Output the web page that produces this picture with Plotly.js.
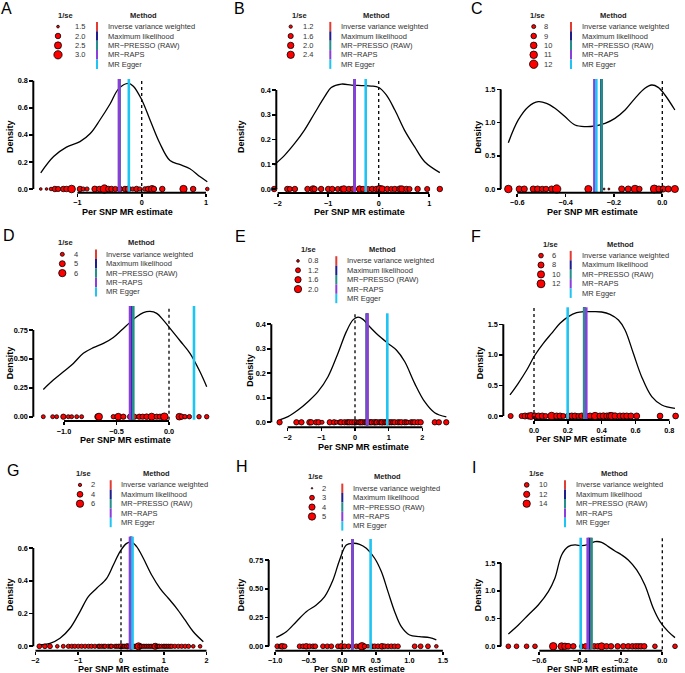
<!DOCTYPE html>
<html><head><meta charset="utf-8">
<script src="https://cdn.plot.ly/plotly-3.0.1.min.js"></script>
<style>html,body{margin:0;padding:0;background:#fff}#chart{width:685px;height:673px}</style>
</head><body><div id="chart"></div>
<script>
const methodNames = ["Inverse variance weighted","Maximum likelihood","MR\u2212PRESSO (RAW)","MR\u2212RAPS","MR Egger"];

// ---------- Panel A ----------
const A_estimate = [-1.57,-1.48,-1.41,-1.35,-1.30,-1.22,-1.17,-1.09,-0.96,-0.91,-0.85,-0.73,-0.66,-0.58,-0.52,-0.47,-0.41,-0.34,-0.26,-0.21,-0.14,-0.08,-0.03,0.05,0.10,0.16,0.19,0.32,0.65,0.80,1.02];
const A_inv_se = [1.5,1.5,1.6,2.0,1.9,2.0,2.0,2.7,2.0,1.7,1.7,2.1,2.0,3.0,2.0,2.0,1.9,2.0,2.0,2.1,1.7,2.0,1.7,1.8,2.0,2.5,2.0,2.0,2.6,2.0,1.6];
const A_density_x = [-1.57,-1.37,-1.17,-0.96,-0.80,-0.65,-0.49,-0.36,-0.21,-0.13,0.00,0.13,0.28,0.44,0.60,0.75,0.91,1.02];
const A_density_y = [0.12,0.24,0.31,0.35,0.41,0.51,0.63,0.74,0.78,0.76,0.66,0.51,0.34,0.21,0.18,0.15,0.09,0.054];
const A_method_estimate = [-0.35,-0.35,-0.35,-0.35,-0.20];
const A_se_breaks = [1.5,2.0,2.5,3.0];
const A_x_ticks = [-1,0,1];
const A_y_ticks = [0,0.2,0.4,0.6,0.8];

// ---------- Panel B ----------
const B_estimate = [-2.07,-1.81,-1.76,-1.66,-1.41,-1.30,-1.27,-1.14,-1.00,-0.92,-0.81,-0.73,-0.69,-0.59,-0.51,-0.38,-0.31,-0.21,-0.13,-0.05,0.02,0.07,0.17,0.25,0.32,0.42,0.46,0.55,0.61,0.77,0.96,1.21];
const B_inv_se = [1.7,1.7,1.6,1.7,1.7,2.1,1.7,1.7,1.7,1.7,1.6,1.7,2.1,1.7,1.7,2.0,1.7,1.6,1.7,1.7,2.4,2.0,1.7,1.6,1.7,2.0,2.0,1.7,1.6,1.7,1.6,1.7];
const B_density_x = [-2.07,-1.86,-1.66,-1.47,-1.27,-1.07,-0.94,-0.74,-0.54,-0.34,-0.15,0.00,0.15,0.32,0.51,0.71,0.91,1.21];
const B_density_y = [0.097,0.137,0.185,0.238,0.306,0.373,0.41,0.424,0.42,0.418,0.416,0.41,0.38,0.319,0.238,0.171,0.11,0.066];
const B_method_estimate = [-0.475,-0.475,-0.475,-0.475,-0.257];
const B_se_breaks = [1.2,1.6,2.0,2.4];
const B_x_ticks = [-2,-1,0,1];
const B_y_ticks = [0,0.1,0.2,0.3,0.4];

// ---------- Panel C ----------
const C_estimate = [-0.637,-0.592,-0.571,-0.534,-0.516,-0.497,-0.481,-0.458,-0.437,-0.306,-0.241,-0.221,-0.168,-0.141,-0.113,-0.095,-0.033,-0.014,0.004,0.025,0.052];
const C_inv_se = [11,9.5,9.5,9.5,9.5,9,9,9.5,12,10.5,7.4,7.4,9.5,9.5,11,9,11.5,9.5,9.5,9.5,10.5];
const C_density_x = [-0.637,-0.596,-0.554,-0.513,-0.479,-0.444,-0.403,-0.361,-0.320,-0.279,-0.237,-0.196,-0.154,-0.113,-0.072,-0.044,-0.017,0.011,0.052];
const C_density_y = [0.698,1.04,1.24,1.315,1.29,1.215,1.09,0.964,0.939,0.949,0.989,1.064,1.19,1.365,1.516,1.566,1.531,1.416,1.19];
const C_method_estimate = [-0.251,-0.252,-0.251,-0.281,-0.273];
const C_se_breaks = [8,9,10,11,12];
const C_x_ticks = [-0.6,-0.4,-0.2,0.0];
const C_y_ticks = [0,0.5,1.0,1.5];

// ---------- Panel D ----------
const D_estimate = [-1.197,-1.108,-1.070,-1.006,-0.959,-0.927,-0.879,-0.832,-0.679,-0.667,-0.530,-0.483,-0.435,-0.371,-0.330,-0.283,-0.251,-0.213,-0.165,-0.117,-0.086,-0.054,-0.044,0.098,0.121,0.152,0.194,0.286,0.359];
const D_inv_se = [4,4,4,4.6,4,4,4,4,5,5.8,4.2,5.6,4.6,4.6,4.6,4.6,4.6,4.8,5.8,4.6,4.6,4.8,6.2,5.5,4.6,4.2,4.2,4.2,4.2];
const D_density_x = [-1.197,-1.102,-1.006,-0.911,-0.816,-0.721,-0.625,-0.530,-0.451,-0.371,-0.308,-0.244,-0.181,-0.117,-0.054,0.01,0.105,0.2,0.295,0.359];
const D_density_y = [0.236,0.317,0.389,0.461,0.548,0.597,0.634,0.686,0.75,0.816,0.865,0.9,0.911,0.894,0.836,0.764,0.657,0.548,0.389,0.26];
const D_method_estimate = [-0.35,-0.35,-0.34,-0.371,0.238];
const D_se_breaks = [4,5,6];
const D_x_ticks = [-1.0,-0.5,0.0];
const D_y_ticks = [0,0.25,0.5,0.75];

// ---------- Panel E ----------
const E_estimate = [-2.24,-1.74,-1.59,-1.35,-1.30,-1.15,-1.08,-0.98,-0.75,-0.62,-0.55,-0.45,-0.41,-0.31,-0.23,-0.20,-0.16,-0.09,-0.01,0.05,0.09,0.13,0.17,0.22,0.29,0.33,0.37,0.44,0.47,0.50,0.58,0.62,0.65,0.73,0.77,0.81,0.88,0.92,0.96,1.02,1.08,1.13,1.18,1.28,1.33,1.38,1.48,1.53,1.57,1.67,1.72,1.77,1.87,1.95,2.37,2.49,2.71];
const E_inv_se = [1.3,1.3,1.3,1.4,1.3,1.3,1.3,1.0,1.3,1.3,1.0,1.2,1.3,1.3,1.3,1.2,1.3,1.3,1.4,1.2,1.0,1.3,1.3,1.3,1.3,1.2,1.4,1.3,1.2,1.3,1.4,1.2,1.3,1.3,1.2,1.4,1.3,1.2,1.3,1.3,1.3,1.2,1.3,1.3,1.2,1.3,1.3,1.2,1.0,1.3,1.2,1.3,1.3,1.3,1.3,1.3,1.3];
const E_density_x = [-2.238,-1.99,-1.693,-1.396,-1.099,-0.802,-0.505,-0.257,-0.059,0.089,0.238,0.436,0.683,0.98,1.228,1.475,1.772,2.069,2.366,2.713];
const E_density_y = [0.01,0.023,0.05,0.084,0.125,0.186,0.282,0.37,0.418,0.429,0.42,0.39,0.356,0.322,0.295,0.248,0.159,0.084,0.039,0.022];
const E_method_estimate = [0.36,0.35,0.36,0.37,0.96];
const E_se_breaks = [0.8,1.2,1.6,2.0];
const E_x_ticks = [-2,-1,0,1,2];
const E_y_ticks = [0,0.1,0.2,0.3,0.4];

// ---------- Panel F ----------
const F_estimate = [-0.138,-0.073,-0.053,-0.033,-0.018,0.006,0.026,0.049,0.069,0.104,0.134,0.154,0.173,0.203,0.223,0.242,0.262,0.282,0.305,0.331,0.361,0.39,0.41,0.43,0.449,0.459,0.479,0.508,0.528,0.548,0.573,0.607,0.745,0.837];
const F_inv_se = [6.5,6.5,8,8,10,8,8,8,6.5,11,8,8,6.5,8,8,8,6.5,8,8,8,10.5,8,8.5,8,10,10,8.5,8,8,8,8,8,7.5,7.5];
const F_density_x = [-0.142,-0.093,-0.043,0.006,0.055,0.104,0.154,0.203,0.252,0.301,0.351,0.4,0.449,0.499,0.538,0.587,0.636,0.696,0.755,0.833];
const F_density_y = [0.344,0.535,0.753,0.998,1.189,1.353,1.517,1.626,1.691,1.708,1.708,1.702,1.664,1.571,1.408,1.026,0.644,0.316,0.18,0.125];
const F_method_estimate = [0.297,0.297,0.297,0.309,0.199];
const F_se_breaks = [6,8,10,12];
const F_x_ticks = [0.0,0.2,0.4,0.6,0.8];
const F_y_ticks = [0,0.5,1.0,1.5];

// ---------- Panel G ----------
const G_estimate = [-1.91,-1.78,-1.66,-1.49,-1.35,-1.23,-1.15,-1.08,-1.00,-0.92,-0.84,-0.76,-0.69,-0.61,-0.53,-0.50,-0.45,-0.40,-0.37,-0.30,-0.25,-0.22,-0.14,-0.10,-0.06,-0.01,0.00,0.05,0.08,0.12,0.15,0.18,0.22,0.25,0.30,0.33,0.37,0.41,0.44,0.48,0.52,0.56,0.60,0.64,0.68,0.72,0.76,0.80,0.84,0.87,0.90,0.95,1.00,1.03,1.07,1.11,1.15,1.19,1.26,1.34,1.42,1.50,1.58,1.69,1.85];
const G_inv_se = [3.0,3.0,3.0,2.2,2.4,2.6,2.6,2.6,2.6,2.6,2.6,2.6,2.6,2.6,2.6,2.6,2.6,2.6,2.6,2.6,2.6,2.6,2.6,2.6,2.6,2.6,3.4,2.6,2.6,2.6,3.6,2.6,2.6,2.6,2.6,2.6,2.6,5.6,2.6,2.6,2.6,2.6,2.6,2.6,2.6,2.6,2.6,4.4,2.6,2.6,2.6,2.6,2.6,2.6,2.6,2.6,2.6,2.6,2.6,2.6,2.6,2.6,2.6,2.2,2.2];
const G_density_x = [-1.934,-1.661,-1.427,-1.193,-0.959,-0.764,-0.569,-0.335,-0.179,-0.023,0.133,0.25,0.366,0.522,0.717,0.912,1.107,1.302,1.497,1.692,1.926];
const G_density_y = [0.008,0.018,0.049,0.11,0.212,0.303,0.354,0.415,0.496,0.578,0.628,0.635,0.608,0.537,0.435,0.354,0.293,0.232,0.161,0.089,0.028];
const G_method_estimate = [0.23,0.235,0.24,0.21,0.27];
const G_se_breaks = [2,4,6];
const G_x_ticks = [-2,-1,0,1,2];
const G_y_ticks = [0,0.2,0.4,0.6];

// ---------- Panel H ----------
const H_estimate = [-0.969,-0.919,-0.895,-0.860,-0.636,-0.586,-0.537,-0.487,-0.437,-0.403,-0.288,-0.224,-0.164,-0.065,-0.015,0.035,0.094,0.144,0.209,0.258,0.293,0.333,0.383,0.442,0.482,0.532,0.591,0.631,0.681,0.731,0.780,0.830,1.079,1.168,1.277,1.402];
const H_inv_se = [3,3,3.6,3,3,3,3.5,3,3,3,3,3,3,3,3.5,3,3,2.3,3,3,5.2,3,2.4,3,3,3,3.6,3,3,3,3,3,3,3,3,2.4];
const H_density_x = [-0.984,-0.835,-0.686,-0.537,-0.388,-0.263,-0.139,-0.04,0.06,0.159,0.258,0.358,0.482,0.582,0.681,0.781,0.88,1.004,1.153,1.302,1.402];
const H_density_y = [0.078,0.127,0.214,0.301,0.359,0.432,0.576,0.75,0.88,0.895,0.886,0.851,0.765,0.649,0.475,0.301,0.171,0.098,0.084,0.075,0.055];
const H_method_estimate = [0.15,0.15,0.15,0.149,0.422];
const H_se_breaks = [2,3,4,5];
const H_x_ticks = [-1.0,-0.5,0.0,0.5,1.0,1.5];
const H_y_ticks = [0,0.25,0.5,0.75];

// ---------- Panel I ----------
const I_estimate = [-0.751,-0.711,-0.662,-0.621,-0.532,-0.491,-0.475,-0.459,-0.434,-0.393,-0.374,-0.353,-0.332,-0.315,-0.296,-0.272,-0.250,-0.218,-0.190,-0.166,-0.146,-0.130,-0.117,-0.104,-0.088,-0.036,0.062];
const I_inv_se = [10,10,10,10,14.5,13.5,12.5,11.5,11,10,11,11,11,11,13.5,11,11,11,11,11,11,11,11,11,11,10,10];
const I_density_x = [-0.751,-0.702,-0.654,-0.605,-0.556,-0.524,-0.491,-0.459,-0.426,-0.393,-0.361,-0.328,-0.296,-0.263,-0.231,-0.198,-0.166,-0.125,-0.085,-0.044,-0.011,0.029,0.062];
const I_density_y = [0.222,0.384,0.564,0.744,0.984,1.224,1.644,1.794,1.824,1.812,1.836,1.884,1.872,1.794,1.716,1.644,1.554,1.374,1.104,0.684,0.444,0.264,0.156];
const I_method_estimate = [-0.35,-0.358,-0.345,-0.364,-0.398];
const I_se_breaks = [10,12,14];
const I_x_ticks = [-0.6,-0.4,-0.2,0.0];
const I_y_ticks = [0,0.5,1.0,1.5];

// ---------- styling / layout geometry ----------
const W = 685, H = 673;
const methodColors = ["#E23B32","#1D1D8E","#23908B","#8A3FDC","#1EC4F2"];
const FONT = "Liberation Sans, Arial, Helvetica, sans-serif";

const panels = [
 {letter:"A", est:A_estimate, se:A_inv_se, dx:A_density_x, dy:A_density_y, m:A_method_estimate, br:A_se_breaks, xt:A_x_ticks, yt:A_y_ticks, xf:"d", yf:".1f", bd:1,
  x0:141.7, xs:64.3, y0:189, ys:135.3, yAx:33.3, xAx:192.7, top:79, L:34, R:212, sd:[1.45,3.1],
  lp:[6.5,9], ytp:[10,137], xtp:[128,211.7], lg:{hy:15, h1:65, h2:143, cx:58, lx:74, bx:97, mx:107}},
 {letter:"B", est:B_estimate, se:B_inv_se, dx:B_density_x, dy:B_density_y, m:B_method_estimate, br:B_se_breaks, xt:B_x_ticks, yt:B_y_ticks, xf:"d", yf:".1f", bd:1,
  x0:378.7, xs:50.5, y0:189, ys:247.5, yAx:276.3, xAx:193, top:79, L:268, R:446, sd:[1.07,3.0],
  lp:[239.7,9], ytp:[241,137], xtp:[359.7,211.7], lg:{hy:15, h1:299.7, h2:376.3, cx:290.7, lx:302, bx:330.3, mx:340.3}},
 {letter:"C", est:C_estimate, se:C_inv_se, dx:C_density_x, dy:C_density_y, m:C_method_estimate, br:C_se_breaks, xt:C_x_ticks, yt:C_y_ticks, xf:".1f", yf:".1f", bd:0,
  x0:662.3, xs:241.7, y0:189, ys:66.4, yAx:500.7, xAx:192.7, top:79, L:502, R:681, sd:[7.38,12.2],
  lp:[476.7,9], ytp:[477.7,136.7], xtp:[592.3,211.7], lg:{hy:15, h1:537.7, h2:613.7, cx:533.7, lx:543.3, bx:571, mx:581}},
 {letter:"D", est:D_estimate, se:D_inv_se, dx:D_density_x, dy:D_density_y, m:D_method_estimate, br:D_se_breaks, xt:D_x_ticks, yt:D_y_ticks, xf:".1f", yf:".2f", bd:0,
  x0:169, xs:105, y0:416.7, ys:115.6, yAx:33.3, xAx:421, top:306, L:36, R:213, sd:[3.54,7.12],
  lp:[9,236], ytp:[10,363.3], xtp:[126,440], lg:{hy:242.7, h1:65, h2:141.7, cx:62.3, lx:72.7, bx:96, mx:105.3}},
 {letter:"E", est:E_estimate, se:E_inv_se, dx:E_density_x, dy:E_density_y, m:E_method_estimate, br:E_se_breaks, xt:E_x_ticks, yt:E_y_ticks, xf:"d", yf:".1f", bd:1,
  x0:355, xs:33.67, y0:422.3, ys:245, yAx:271.3, xAx:427.3, top:313.3, L:273, R:452, sd:[0.747,2.57],
  lp:[240.5,236.7], ytp:[249.7,370], xtp:[363,446.5], lg:{hy:249.3, h1:308, h2:382.3, cx:298, lx:307, bx:336.3, mx:346.3}},
 {letter:"F", est:F_estimate, se:F_inv_se, dx:F_density_x, dy:F_density_y, m:F_method_estimate, br:F_se_breaks, xt:F_x_ticks, yt:F_y_ticks, xf:".1f", yf:".1f", bd:0,
  x0:534, xs:169.2, y0:416, ys:61.1, yAx:503.3, xAx:420, top:307.3, L:505, R:682, sd:[4.08,13.27],
  lp:[476,236.7], ytp:[480,363.3], xtp:[581.3,439], lg:{hy:244, h1:550, h2:620, cx:541, lx:551, bx:570.7, mx:581}},
 {letter:"G", est:G_estimate, se:G_inv_se, dx:G_density_x, dy:G_density_y, m:G_method_estimate, br:G_se_breaks, xt:G_x_ticks, yt:G_y_ticks, xf:"d", yf:".1f", bd:0,
  x0:121, xs:42.75, y0:646.3, ys:163.9, yAx:33.3, xAx:650.8, top:536.7, L:34, R:210, sd:[1.575,8.0],
  lp:[13,470], ytp:[10,595], xtp:[123.3,669.2], lg:{hy:473.3, h1:83.3, h2:156.7, cx:80, lx:90, bx:110.7, mx:120}},
 {letter:"H", est:H_estimate, se:H_inv_se, dx:H_density_x, dy:H_density_y, m:H_method_estimate, br:H_se_breaks, xt:H_x_ticks, yt:H_y_ticks, xf:".1f", yf:".2f", bd:0,
  x0:342.3, xs:67.07, y0:646.3, ys:115.1, yAx:268.7, xAx:650.8, top:539, L:270, R:445, sd:[2.0,6.37],
  lp:[242,466], ytp:[241.3,595], xtp:[359.7,669.2], lg:{hy:476.7, h1:315.7, h2:387.3, cx:312, lx:320.7, bx:342.3, mx:352}},
 {letter:"I", est:I_estimate, se:I_inv_se, dx:I_density_x, dy:I_density_y, m:I_method_estimate, br:I_se_breaks, xt:I_x_ticks, yt:I_y_ticks, xf:".1f", yf:".1f", bd:0,
  x0:662.3, xs:205, y0:646.3, ys:55.57, yAx:500.7, xAx:650.8, top:537.7, L:502, R:680, sd:[8.25,16.6],
  lp:[474,467], ytp:[478.3,595], xtp:[592.3,669.2], lg:{hy:473.3, h1:536.7, h2:614.3, cx:526.7, lx:537.7, bx:565, mx:575}}
];

const px = v => v / W;
const py = v => 1 - v / H;
function diam(v, sd) {
  let f = (v - sd[0]) / (sd[1] - sd[0]);
  f = Math.max(0, Math.min(1, f));
  return 1.5 + 7 * Math.sqrt(f);
}

const traces = [], shapes = [], annotations = [];
const layout = {
  width: W, height: H, margin: {l:0, r:0, t:0, b:0},
  paper_bgcolor: "#ffffff", plot_bgcolor: "rgba(0,0,0,0)",
  showlegend: false, font: {family: FONT, color: "#000"},
  xaxis10: {domain:[0,1], range:[0,W], visible:false, anchor:"y10", fixedrange:true},
  yaxis10: {domain:[0,1], range:[H,0], visible:false, anchor:"x10", fixedrange:true}
};

const tickFont = {family: FONT, size: 7.3, color: "#000", weight: "bold"};
const legFont = {family: FONT, size: 7.5, color: "#333"};
const legHead = {family: FONT, size: 7.5, color: "#222", weight: "bold"};

panels.forEach((p, i) => {
  const n = i + 1;
  const xa = n === 1 ? "x" : "x" + n;
  const ya = n === 1 ? "y" : "y" + n;
  const xk = n === 1 ? "xaxis" : "xaxis" + n;
  const yk = n === 1 ? "yaxis" : "yaxis" + n;
  const Bp = p.y0 + 3;
  layout[xk] = {
    domain: [px(p.L), px(p.R)],
    range: [(p.L - p.x0) / p.xs, (p.R - p.x0) / p.xs],
    anchor: "free", position: py(p.xAx),
    showline: false, showgrid: false, zeroline: false,
    tickmode: "array", tickvals: p.xt, tickformat: p.xf,
    ticks: "outside", ticklen: 2.8, tickwidth: 1.6, tickcolor: "#000",
    tickfont: tickFont, fixedrange: true
  };
  layout[yk] = {
    domain: [py(Bp), py(p.top)],
    range: [(p.y0 - Bp) / p.ys, (p.y0 - p.top) / p.ys],
    anchor: "free", position: px(p.yAx),
    showline: false, showgrid: false, zeroline: false,
    tickmode: "array", tickvals: p.yt, tickformat: p.yf,
    ticks: "outside", ticklen: 4, tickwidth: 1.6, tickcolor: "#000",
    tickfont: tickFont, fixedrange: true
  };

  // density curve
  traces.push({type: "scatter", mode: "lines", x: p.dx, y: p.dy, xaxis: xa, yaxis: ya,
    line: {color: "#000", width: 1.3, shape: "spline", smoothing: 1}, hoverinfo: "skip"});
  // per-SNP points at y = 0
  traces.push({type: "scatter", mode: "markers", x: p.est, y: p.est.map(() => 0), xaxis: xa, yaxis: ya,
    cliponaxis: false,
    marker: {color: "#FF0000", opacity: 1, size: p.se.map(v => diam(v, p.sd)), line: {color: "#000", width: 0.8}},
    hoverinfo: "skip"});

  // dotted null line
  shapes.push({type: "line", xref: xa, yref: ya + " domain", x0: 0, x1: 0, y0: 0, y1: 1,
    line: {color: "#000", width: 1.3, dash: "dot"}});
  // method estimate lines
  p.m.forEach((v, k) => {
    shapes.push({type: "line", xref: xa, yref: ya + " domain", x0: v, x1: v, y0: 0, y1: 1,
      line: {color: methodColors[k], width: 2.6}});
  });
  // offset axis lines
  shapes.push({type: "line", xref: "paper", yref: ya, x0: px(p.yAx), x1: px(p.yAx),
    y0: p.yt[0], y1: p.yt[p.yt.length - 1], line: {color: "#000", width: 2}});
  shapes.push({type: "line", xref: xa, yref: "paper", x0: p.xt[0], x1: p.xt[p.xt.length - 1],
    y0: py(p.xAx), y1: py(p.xAx), line: {color: "#000", width: 2}});

  // panel letter
  annotations.push({xref: "paper", yref: "paper", x: px(p.lp[0]), y: py(p.lp[1]), text: p.letter,
    showarrow: false, xanchor: "center", yanchor: "middle", font: {family: FONT, size: 16, color: "#000"}});
  // axis titles
  annotations.push({xref: "paper", yref: "paper", x: px(p.ytp[0]), y: py(p.ytp[1]), text: "Density",
    textangle: -90, showarrow: false, xanchor: "center", yanchor: "middle",
    font: {family: FONT, size: 9, color: "#000", weight: "bold"}});
  annotations.push({xref: "paper", yref: "paper", x: px(p.xtp[0]), y: py(p.xtp[1]), text: "Per SNP MR estimate",
    showarrow: false, xanchor: "center", yanchor: "middle", borderpad: 0,
    font: {family: FONT, size: 9, color: "#000", weight: "bold"}});

  // legends
  const g = p.lg;
  const rowY = k => g.hy + 11.6 + k * 9.4;
  annotations.push({xref: "paper", yref: "paper", x: px(g.h1), y: py(g.hy), text: "1/se", showarrow: false,
    xanchor: "center", yanchor: "middle", font: legHead});
  annotations.push({xref: "paper", yref: "paper", x: px(g.h2), y: py(g.hy), text: "Method", showarrow: false,
    xanchor: "center", yanchor: "middle", font: legHead});
  traces.push({type: "scatter", mode: "markers", xaxis: "x10", yaxis: "y10", cliponaxis: false,
    x: p.br.map(() => g.cx), y: p.br.map((_, k) => rowY(k)),
    marker: {color: "#FF0000", opacity: 1, size: p.br.map(v => diam(v, p.sd)), line: {color: "#000", width: 0.8}},
    hoverinfo: "skip"});
  p.br.forEach((v, k) => {
    annotations.push({xref: "paper", yref: "paper", x: px(g.lx), y: py(rowY(k)), text: v.toFixed(p.bd),
      showarrow: false, xanchor: "left", yanchor: "middle", borderpad: 0, font: legFont});
  });
  methodNames.forEach((name, k) => {
    shapes.push({type: "rect", xref: "paper", yref: "paper", x0: px(g.bx - 1), x1: px(g.bx + 1),
      y0: py(rowY(k) + 4.7), y1: py(rowY(k) - 4.7), fillcolor: methodColors[k], line: {width: 0}});
    annotations.push({xref: "paper", yref: "paper", x: px(g.mx), y: py(rowY(k)), text: name,
      showarrow: false, xanchor: "left", yanchor: "middle", borderpad: 0, font: legFont});
  });
});

layout.shapes = shapes;
layout.annotations = annotations;
Plotly.newPlot("chart", traces, layout, {staticPlot: true, displayModeBar: false});
</script>
</body></html>
